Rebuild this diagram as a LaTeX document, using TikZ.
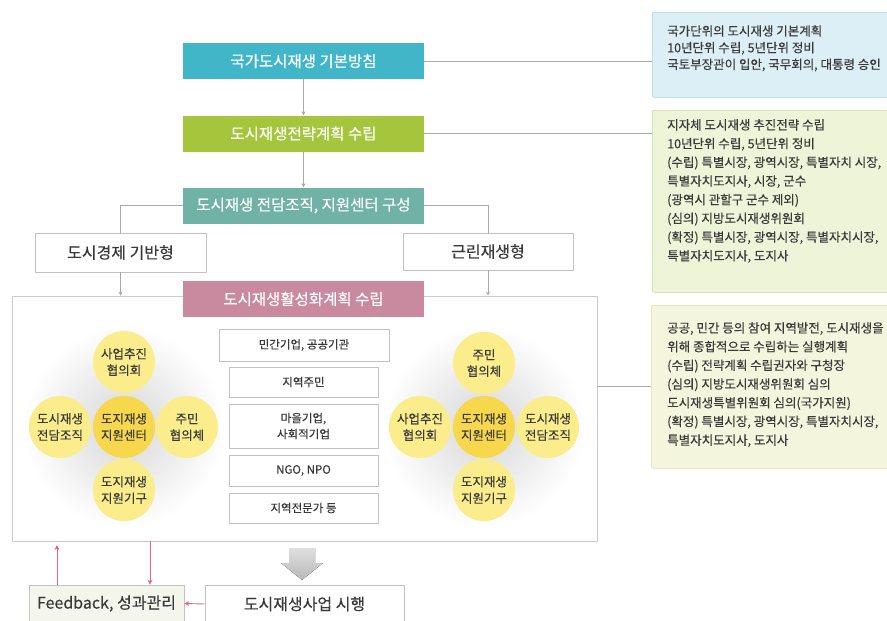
\documentclass[tikz,border=0pt]{standalone}
\usepackage{fontspec}
\setmainfont{Noto Sans CJK KR}[FakeBold=0.3]
\usetikzlibrary{arrows.meta}
\definecolor{urbblue}{HTML}{40B6C8}
\definecolor{urbgreen}{HTML}{A5C63C}
\definecolor{urbteal}{HTML}{71B2A6}
\definecolor{urbpink}{HTML}{C98A9F}
\definecolor{urbline}{HTML}{A8A8A8}
\definecolor{urbred}{HTML}{E26585}
\definecolor{urbyellow}{HTML}{FBEC8C}
\definecolor{urbgold}{HTML}{F7D84C}
\definecolor{urbtext}{HTML}{3A3A3A}
\definecolor{noteblue}{HTML}{DDEFF6}
\definecolor{noteblueline}{HTML}{A6D3E2}
\definecolor{notegreen}{HTML}{EEF4D8}
\definecolor{notegreenline}{HTML}{C9DC95}
\definecolor{noteyellow}{HTML}{F4F5DD}
\definecolor{noteyellowline}{HTML}{DDE2A8}
\definecolor{fbfill}{HTML}{F4F6EC}

\begin{document}
\begin{tikzpicture}[x=1pt,y=-1pt,
  stage/.style={minimum width=241pt,minimum height=36pt,inner sep=0pt,text=white,font=\fontsize{15.5}{17}\selectfont},
  typebox/.style={draw=urbline!70,line width=0.6pt,fill=white,inner sep=0pt,text=urbtext,font=\fontsize{16}{18}\selectfont},
  actor/.style={draw=urbline!70,line width=0.6pt,fill=white,minimum width=149pt,inner sep=0pt,text=urbtext,align=center,font=\fontsize{11.5}{16}\selectfont},
  org/.style={circle,fill=urbyellow,minimum size=62pt,inner sep=0pt,align=center,text=urbtext,font=\fontsize{12.5}{16.5}\selectfont},
  note/.style={draw,line width=0.6pt,rounded corners=2pt,anchor=north west,inner sep=0pt},
  notetext/.style={anchor=north west,align=left,inner sep=0pt,text=urbtext,font=\fontsize{12.5}{18.7}\selectfont},
  conn/.style={draw=urbline,line width=0.7pt},
  flow/.style={conn,-{Stealth[length=4pt,width=4pt]}},
  fb/.style={draw=urbred,line width=0.9pt,-{Stealth[length=5pt,width=5pt]}}]
  \useasboundingbox (0,0) rectangle (887,621);
  \clip (0,0) rectangle (887,621);

  % main flow
  \node[stage,fill=urbblue] (basic) at (303.5,61) {국가도시재생 기본방침};
  \node[stage,fill=urbgreen] (strat) at (303.5,133.5) {도시재생전략계획 수립};
  \node[stage,fill=urbteal] (orgn) at (303.5,205.5) {도시재생 전담조직, 지원센터 구성};
  \node[typebox,minimum width=171pt,minimum height=39pt] (econ) at (120.5,252.5) {도시경제 기반형};
  \node[typebox,minimum width=170pt,minimum height=37pt] (nbhd) at (488,251.5) {근린재생형};

  % activation plan container
  \node[draw=urbline!60,line width=0.7pt,fill=white,minimum width=585pt,minimum height=245pt,inner sep=0pt] (plan) at (304.5,418.5) {};
  \node[stage,fill=urbpink] (plantitle) at (303.5,299) {도시재생활성화계획 수립};

  \draw[flow] (basic) -- (strat);
  \draw[flow] (strat) -- (orgn);
  \draw[conn] (orgn.west) -| (econ.north);
  \draw[conn] (orgn.east) -| (nbhd.north);
  \draw[flow] (econ.south) -- (econ.south |- plan.north);
  \draw[flow] (nbhd.south) -- (nbhd.south |- plan.north);

  % left cluster
  \shade[inner color=gray!32,outer color=white] (124,427) circle[radius=100];
  \node[org] (ltop) at (124,362) {사업추진\\협의회};
  \node[org] (lleft) at (60,427) {도시재생\\전담조직};
  \node[org] (lright) at (187,427) {주민\\협의체};
  \node[org] (lbottom) at (124,490) {도지재생\\지원기구};
  \node[org,fill=urbgold] (lcenter) at (124,427) {도지재생\\지원센터};

  % right cluster
  \shade[inner color=gray!32,outer color=white] (484,427) circle[radius=100];
  \node[org] (rtop) at (484,363) {주민\\협의체};
  \node[org] (rleft) at (420,427) {사업추진\\협의회};
  \node[org] (rright) at (548,427) {도시재생\\전담조직};
  \node[org] (rbottom) at (484,490) {도지재생\\지원기구};
  \node[org,fill=urbgold] (rcenter) at (484,427) {도지재생\\지원센터};

  % participants
  \node[actor,minimum width=170pt,minimum height=32pt] (firm) at (304,345) {민간기업, 공공기관};
  \node[actor,minimum height=30pt] (resident) at (303.5,382) {지역주민};
  \node[actor,minimum height=44pt] (village) at (303.5,426) {마을기업,\\사회적기업};
  \node[actor,minimum height=31pt] (ngo) at (303.5,470.5) {NGO, NPO};
  \node[actor,minimum height=30pt] (expert) at (303.5,508) {지역전문가 등};

  % bottom
  \fill[top color=gray!25,bottom color=gray!55] (289,548) -- (315,548) -- (315,563) -- (323,563) -- (302,580) -- (281,563) -- (289,563) -- cycle;
  \node[typebox,fill=fbfill,minimum width=155pt,minimum height=37pt] (feedback) at (106.5,603.5) {Feedback, 성과관리};
  \node[typebox,minimum width=199pt,minimum height=38pt] (exec) at (304.5,604) {도시재생사업 시행};
  \coordinate (fbup) at (57,545);
  \coordinate (fbdown) at (150,541);
  \draw[fb] (feedback.north -| fbup) -- (fbup);
  \draw[fb] (fbdown) -- (feedback.north -| fbdown);
  \draw[fb] (exec.west) -- (feedback.east);

  % notes
  \node[note,draw=noteblueline,fill=noteblue,minimum width=245pt,minimum height=85pt] (note1) at (652,12) {};
  \node[notetext,font=\fontsize{12.5}{16.7}\selectfont] (note1txt) at (667,25) {국가단위의 도시재생 기본계획\\10년단위 수립, 5년단위 정비\\국토부장관이 입안, 국무회의, 대통령 승인};
  \node[note,draw=notegreenline,fill=notegreen,minimum width=245pt,minimum height=182pt] (note2) at (652,110) {};
  \node[notetext] (note2txt) at (667,119) {지자체 도시재생 추진전략 수립\\10년단위 수립, 5년단위 정비\\(수립) 특별시장, 광역시장, 특별자치 시장,\\특별자치도지사, 시장, 군수\\(광역시 관할구 군수 제외)\\(심의) 지방도시재생위원회\\(확정) 특별시장, 광역시장, 특별자치시장,\\특별자치도지사, 도지사};
  \node[note,draw=noteyellowline,fill=noteyellow,minimum width=245pt,minimum height=163pt] (note3) at (651,305) {};
  \node[notetext] (note3txt) at (667,322) {공공, 민간 등의 참여 지역발전, 도시재생을\\위해 종합적으로 수립하는 실행계획\\(수립) 전략계획 수립권자와 구청장\\(심의) 지방도시재생위원회 심의\\도시재생특별위원회 심의(국가지원)\\(확정) 특별시장, 광역시장, 특별자치시장,\\특별자치도지사, 도지사};

  \draw[conn] (basic.east) -- (basic.east -| note1.west);
  \draw[conn] (strat.east) -- (strat.east -| note2.west);
  \draw[conn] (note3.west -| plan.east) -- (note3.west);
\end{tikzpicture}
\end{document}
